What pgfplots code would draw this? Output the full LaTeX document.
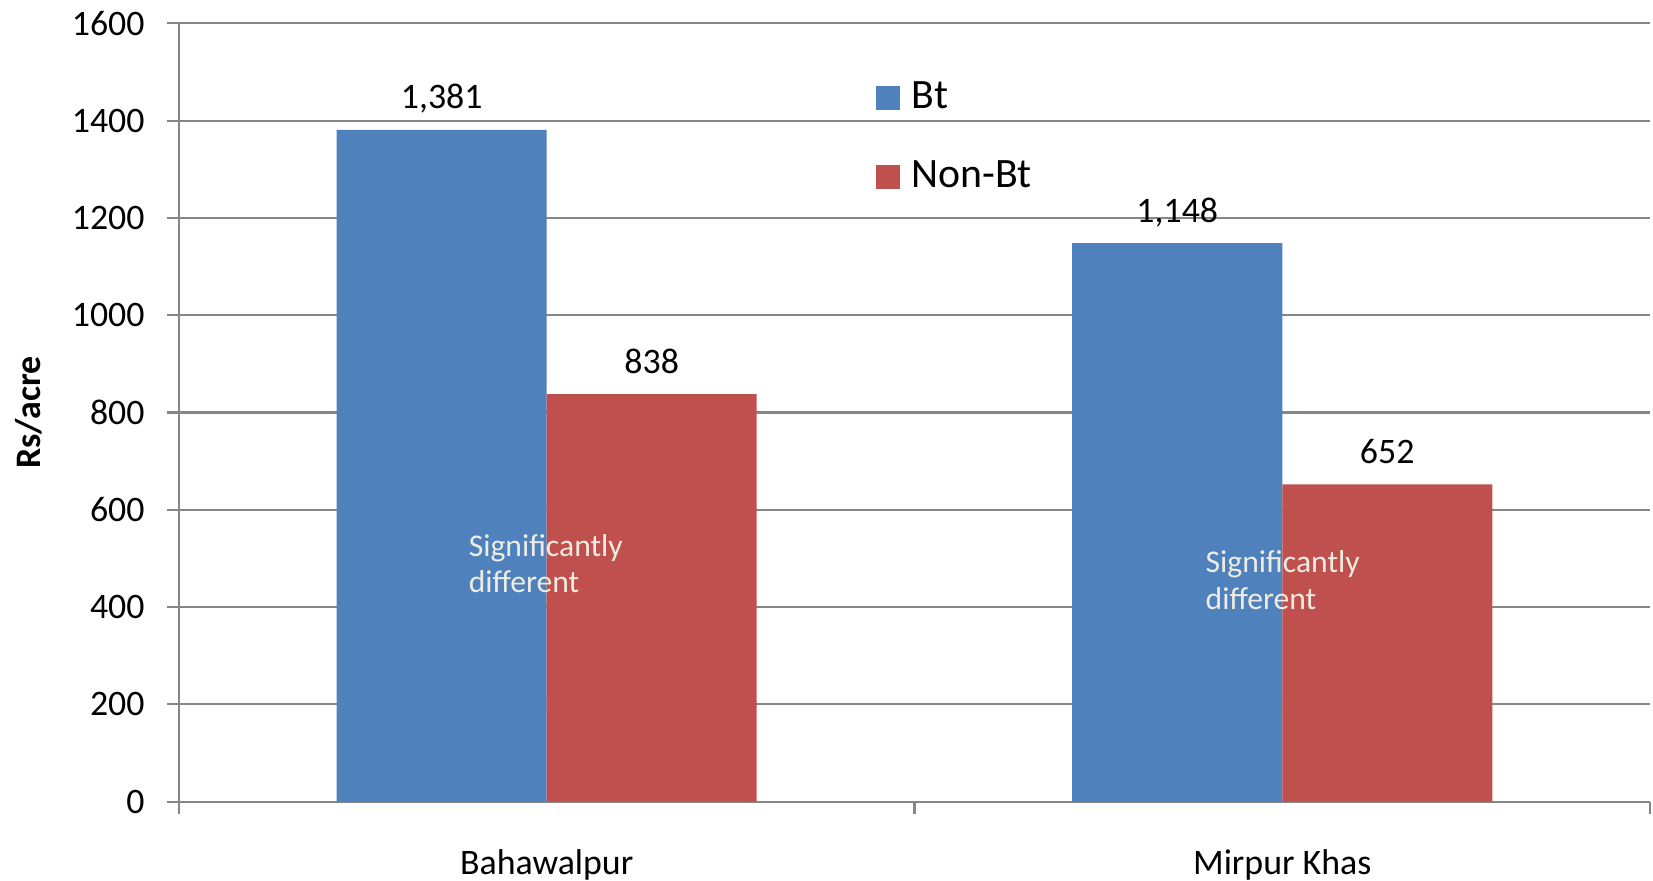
\documentclass[border=0pt]{standalone}
\usepackage{pgfplots}
\pgfplotsset{compat=1.18}
\usepackage{fontspec}
\setmainfont{Carlito}
\definecolor{btblue}{HTML}{4F81BD}
\definecolor{nbred}{HTML}{C0504D}
\definecolor{gridgray}{RGB}{134,134,134}
\definecolor{annot}{HTML}{EEECE1}
\begin{document}
\begin{tikzpicture}
\begin{axis}[
  scale only axis,
  width=147.1mm, height=77.84mm,
  ybar=0pt, bar width=21mm,
  xmin=-0.5, xmax=1.5,
  ymin=0, ymax=1600,
  axis x line=bottom, axis y line=left,
  axis line style={-, gridgray, line width=0.6pt},
  xtick={0,1},
  xticklabels={Bahawalpur, Mirpur Khas},
  major x tick style={draw=none},
  minor xtick={-0.5,0.5,1.5},
  minor x tick style={gridgray, line width=0.6pt},
  minor tick length=1.2mm,
  ytick={0,200,...,1600},
  major tick length=1.2mm,
  tick align=outside,
  y tick style={gridgray, line width=0.6pt},
  ymajorgrids,
  grid style={gridgray, line width=0.6pt},
  /pgf/number format/assume math mode=true,
  /pgf/number format/1000 sep={},
  ticklabel style={font=\fontsize{10.2pt}{12pt}\selectfont},
  xticklabel style={anchor=base, yshift=-6.05mm},
  yticklabel style={xshift=-1mm},
  ylabel={\textbf{Rs/acre}},
  ylabel style={at={(axis description cs:-0.102,0.5)}, anchor=center, font=\fontsize{10.2pt}{12pt}\selectfont},
  legend style={at={(0.466,0.935)}, anchor=north west, draw=none, fill=none,
    font=\fontsize{11.9pt}{13pt}\selectfont, row sep=4.7mm, column sep=1.2mm,
    nodes={inner sep=0pt, anchor=west}},
  legend cell align=left,
  legend image code/.code={\fill[#1] (0mm,-1.2mm) rectangle (2.4mm,1.2mm);},
  nodes near coords={\pgfmathprintnumber[1000 sep={,},assume math mode=true]{\pgfplotspointmeta}},
  every node near coord/.append style={font=\fontsize{10.2pt}{12pt}\selectfont, anchor=base, yshift=2.1mm, text=black},
]
\addplot[fill=btblue, draw=none] coordinates {(0,1381) (1,1148)};
\addplot[fill=nbred, draw=none] coordinates {(0,838) (1,652)};
\legend{Bt, Non-Bt}
\node[anchor=base west, inner sep=0pt, text=annot, font=\fontsize{9pt}{11pt}\selectfont] at (axis cs:-0.107,505) {Significantly};
\node[anchor=base west, inner sep=0pt, text=annot, font=\fontsize{9pt}{11pt}\selectfont] at (axis cs:-0.107,429) {different};
\node[anchor=base west, inner sep=0pt, text=annot, font=\fontsize{9pt}{11pt}\selectfont] at (axis cs:0.895,472) {Significantly};
\node[anchor=base west, inner sep=0pt, text=annot, font=\fontsize{9pt}{11pt}\selectfont] at (axis cs:0.895,396) {different};
\end{axis}
\pgfresetboundingbox
\path (-17.9mm,-7.93mm) rectangle (147.4mm,80.17mm);
\end{tikzpicture}
\end{document}
